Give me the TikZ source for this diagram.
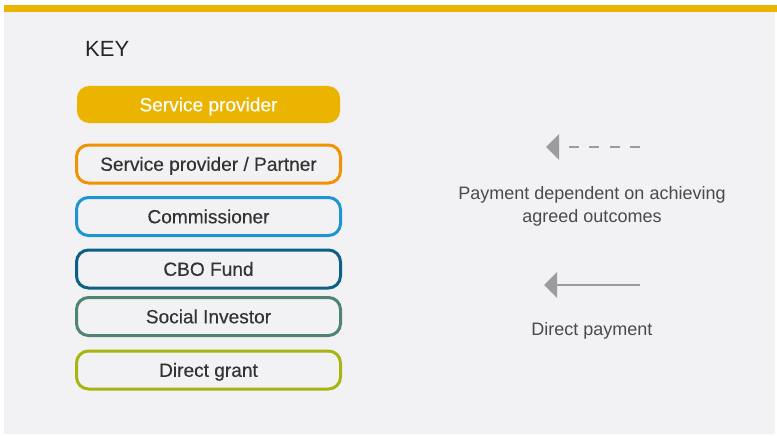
\documentclass[tikz,border=0pt]{standalone}
\usepackage{fontspec}
\setmainfont{Liberation Sans}
\newfontfamily\medfont[FakeBold=0.35]{Liberation Sans}
\usetikzlibrary{arrows.meta}
\definecolor{bgc}{HTML}{F2F2F4}
\definecolor{barcol}{HTML}{EAB400}
\definecolor{cor}{HTML}{F39200}
\definecolor{ccom}{HTML}{1E94D0}
\definecolor{ccbo}{HTML}{0E5F86}
\definecolor{csoc}{HTML}{4F8472}
\definecolor{cdir}{HTML}{A8B511}
\definecolor{txt}{HTML}{333333}
\definecolor{ltxt}{HTML}{4A4A4A}
\definecolor{arr}{HTML}{9E9BA0}
\begin{document}
\begin{tikzpicture}[x=1pt,y=-1pt,
  keybox/.style={rounded corners=12pt, minimum width=264pt, minimum height=38pt,
    line width=3pt, fill=bgc, text=txt, font=\medfont\fontsize{19.1}{22}\selectfont,
    inner sep=0pt, text height=13.6pt, text depth=0pt},
  note/.style={text=ltxt, font=\fontsize{18}{23}\selectfont, inner sep=0pt, anchor=base},
  payarrow/.style={draw=arr, line width=2.7pt, -{Triangle[width=25pt,length=13pt,fill=arr]}}]
\useasboundingbox (0,0) rectangle (777,436);
\fill[white] (0,0) rectangle (777,436);
\fill[bgc] (4,12) rectangle (775,434);
\fill[fill=barcol] (4,5) rectangle (777,12.5);
\node[anchor=base west, inner sep=0pt, text=black!85, font=\fontsize{22}{26}\selectfont] (key) at (85,57) {KEY};
\node[keybox, draw=none, fill=barcol, text=white, minimum width=263pt, minimum height=37pt] (sp) at (208.5,104.5) {Service provider};
\node[keybox, draw=cor] (spp) at (208.5,164) {Service provider / Partner};
\node[keybox, draw=ccom] (com) at (208.5,216.5) {Commissioner};
\node[keybox, draw=ccbo] (cbo) at (208.5,269) {CBO Fund};
\node[keybox, draw=csoc] (soc) at (208.5,316.5) {Social Investor};
\node[keybox, draw=cdir] (dir) at (208.5,370) {Direct grant};
\coordinate (d1s) at (640,147);
\coordinate (d1e) at (546,147);
\draw[payarrow, dash pattern=on 10pt off 10.5pt] (d1s) -- (d1e);
\node[note] (n1a) at (592,199) {Payment dependent on achieving};
\node[note] (n1b) at (592,222) {agreed outcomes};
\coordinate (d2s) at (640,285);
\coordinate (d2e) at (544,285);
\draw[payarrow] (d2s) -- (d2e);
\node[note] (n2) at (592,335) {Direct payment};
\end{tikzpicture}
\end{document}
